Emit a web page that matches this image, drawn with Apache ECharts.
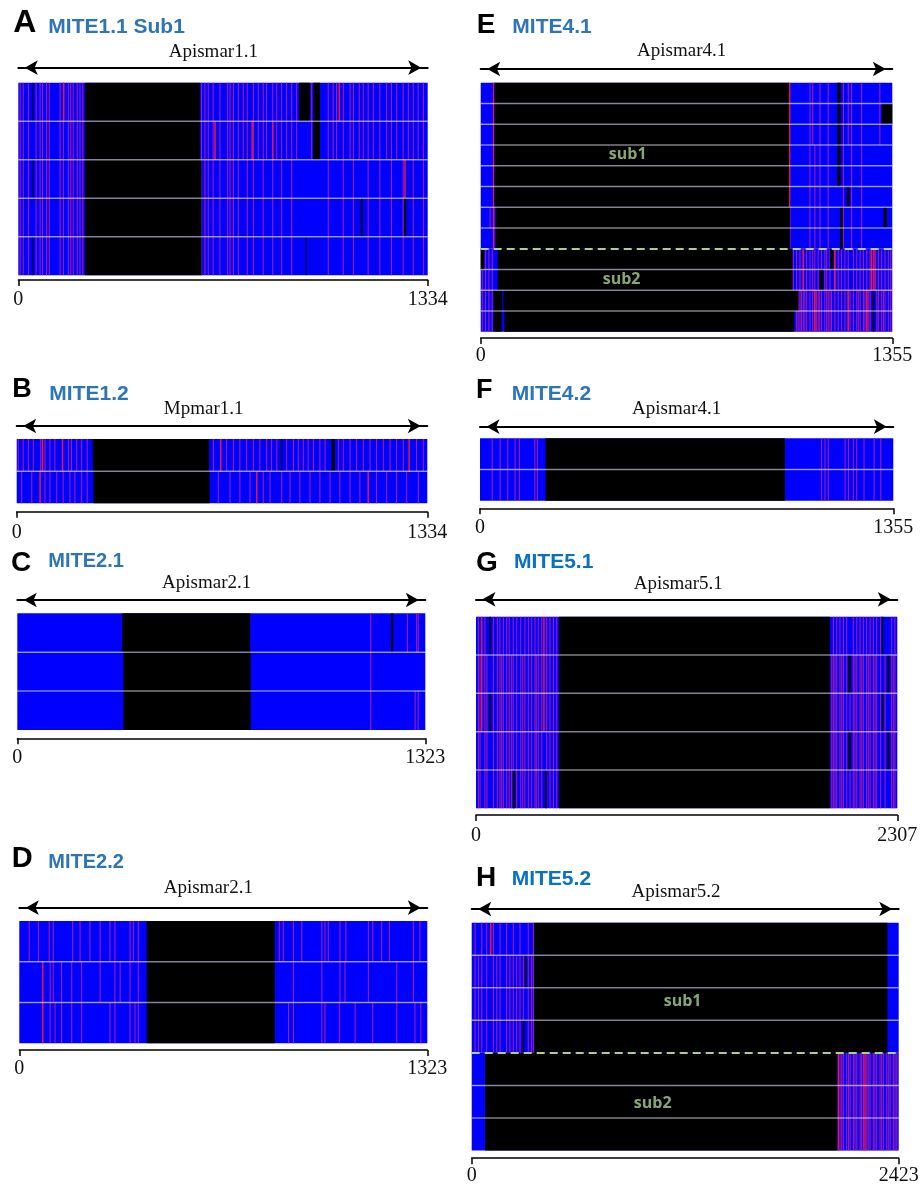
<!DOCTYPE html>
<html><head><meta charset="utf-8">
<script src="https://cdn.jsdelivr.net/npm/echarts@6/dist/echarts.min.js"></script>
<style>html,body{margin:0;padding:0;background:#fff}#c{width:922px;height:1186px}</style>
</head><body><div id="c"></div>
<script>
// ---------- DATA ----------
const panelKeys   = ['A','B','C','D','E','F','G','H'];
const panelTitles = ['MITE1.1 Sub1','MITE1.2','MITE2.1','MITE2.2','MITE4.1','MITE4.2','MITE5.1','MITE5.2'];
const refNames    = ['Apismar1.1','Mpmar1.1','Apismar2.1','Apismar2.1','Apismar4.1','Apismar4.1','Apismar5.1','Apismar5.2'];
const refLengths  = [1334, 1334, 1323, 1323, 1355, 1355, 2307, 2423];
const rowCounts   = [5, 2, 3, 3, 12, 2, 5, 7];
const subBoundary = [null, null, null, null, 8, null, null, 4];

// black (gap) segments: [row, start, end]
const aBlack = [[0,217,592],[1,217,592],[2,217,597],[3,217,597],[4,217,597],[0,915,950],[0,961,983],[1,961,983],
  [0,46,49],[2,47,50],[4,46,49],[3,1116,1122],[3,1257,1264],[4,936,939]];
const bBlack = [[0,247,625],[1,249,627],[0,859,863],[0,1023,1034]];
const cBlack = [[0,340,755],[1,344,757],[2,344,757],[0,1212,1219]];
const dBlack = [[0,413,829],[1,413,829],[2,413,829]];
const eBlack = [[0,45,1015],[1,45,1015],[2,45,1015],[3,45,1015],[4,45,1015],[5,45,1015],[6,49,1018],[7,49,1018],
  [0,1174,1185],[1,1174,1185],[2,1174,1185],[3,1174,1185],[4,1174,1185],[5,1205,1214],[6,1183,1192],[7,1183,1192],
  [1,1320,1355],[6,1326,1337],
  [8,0,11],[8,56,1026],[8,1150,1161],[9,56,1026],[9,1115,1128],
  [10,42,71],[10,75,1046],[10,1290,1296],[11,42,69],[11,78,1032],[11,1290,1296]];
const fBlack = [[0,215,1000],[1,215,1000]];
const gBlack = [[0,454,1938],[1,454,1938],[2,454,1938],[3,454,1938],[4,454,1938],
  [0,73,82],[2,73,82],[4,201,214],[4,378,387],
  [1,2039,2052],[3,2039,2052],[0,2221,2230],[2,2221,2230],[1,2252,2263],[3,2252,2263]];
const hBlack = [[0,354,2359],[1,354,2359],[2,354,2359],[3,354,2359],[4,76,2075],[5,76,2075],[6,76,2075],[1,302,312],[3,289,299]];

// mismatch stripes: [firstRow, lastRow, kind(0 purple,1 red), [positions]]
const aStripes = [
  [0,4,0,[6,16,33,58,71,79,92,101,136,147,163,171,179,192,201,210]],
  [0,4,0,[597,608,619,635,657,682,690,701,717,746,766,798,829,858,891,1010,1059,1092,1140,1178,1216,1254,1287,1320]],
  [0,1,0,[733,782,809,842,874,907,956,1026,1037,1081,1111,1124,1157,1200,1233,1271,1303]],
  [1,1,1,[641,762,829]],[2,2,1,[1260]],[0,0,1,[148,1046]]];
const bStripes = [
  [0,0,0,[5,21,38,54,78,92,108,124,168,178,195,211,229,639,682,704,725,747,769,790,812,828,845,877,899,915,931,947,964,985,1002,1045,1061,1083,1104,1126,1148,1169,1191,1213,1234,1256,1299,1321]],
  [0,0,1,[84,149,663,1275]],
  [1,1,0,[16,49,92,108,130,151,173,189,211,229,655,693,725,758,801,823,861,888,920,953,985,1018,1050,1083,1115,1169,1202,1234,1267,1305]],
  [1,1,1,[76,780,1142]]];
const cStripes = [[0,2,0,[1146]],[0,0,0,[1265,1295,1300]],[2,2,0,[1290,1300]]];
const dStripes = [
  [0,0,0,[32,62,97,110,173,197,229,262,294,310,359,370,386,843,856,889,916,981,991,1002,1040,1059,1132,1146,1175,1200,1278,1299]],
  [1,1,0,[100,110,137,170,202,262,310,327,359,386,889,981,1040,1056,1132,1224,1278]],
  [2,2,0,[100,116,137,170,202,294,310,359,375,386,873,889,981,991,1038,1089,1146,1224,1283,1302]],
  [1,2,1,[76]]];
const eStripes = [
  [0,7,1,[43,1017]],
  [0,7,0,[1084,1117,1144,1194,1221]],
  [0,2,0,[1093,1210,1254,1314]],
  [3,7,0,[1100,1254]],
  [6,6,0,[31]],
  [8,11,0,[5,16,27,38]],
  [8,11,0,[1029,1040,1051,1062,1073,1084,1093,1100,1111,1122,1133,1139,1150,1166,1177,1188,1199,1210,1227,1238,1249,1260,1271,1282,1293,1309,1320,1331,1342,1350]],
  [8,9,1,[1062,1166,1287,1298]],
  [10,11,1,[1100,1210,1271]],
  [10,11,0,[1045,1056,1067,1105,1116,1144,1155,1216,1243,1265,1276,1304,1326]]];
const fStripes = [[0,1,0,[40,66,91,115,129,180,188,1120,1131,1142,1197,1208,1224,1235,1259,1292,1314]]];
const gStripes = [
  [0,4,0,[13,49,95,117,131,150,168,182,204,223,245,268,287,305,323,341,360,387,405,424,442]],
  [0,4,0,[1957,1975,1993,2012,2030,2066,2085,2103,2121,2139,2158,2176,2194,2216,2276,2294]],
  [0,2,1,[31,372]],
  [1,4,0,[22,60,140,195,256,330,1948,1966,2003,2048,2075,2112,2148,2185,2240,2285]]];
const hStripes = [
  [0,3,0,[19,57,85,123,161,198,236,274,321,350]],
  [0,0,1,[108]],
  [1,3,0,[38,142,217,255,293,340]],
  [4,6,0,[2090,2109,2128,2147,2166,2185,2204,2223,2242,2260,2279,2298,2317,2336,2355,2374,2393,2412]],
  [4,6,0,[2100,2138,2175,2213,2250,2288,2326,2364,2402]],
  [4,6,1,[2080,2232]]];

// subfamily labels: [panelIndex, x, row position, text]
const subLabels = [[4,484,3.44,'sub1'],[4,464,9.46,'sub2'],[7,1197,2.43,'sub1'],[7,1027,5.56,'sub2']];

const blackSets  = [aBlack,bBlack,cBlack,dBlack,eBlack,fBlack,gBlack,hBlack];
const stripeSets = [aStripes,bStripes,cStripes,dStripes,eStripes,fStripes,gStripes,hStripes];

// ---------- LAYOUT (pixels) ----------
const layout = [
  {grid:[18.3,82.7,409.4,192.6], arrowOff:15,   nameGap:6.6,  nameShift:9.7,  bracketOff:4.7, labelMargin:10,  letter:[13.3,23.3,32], mite:[48.3,26.8,21], color:'#2e75b6'},
  {grid:[16.7,439,410.6,64.3],   arrowOff:13,   nameGap:7,    nameShift:18.3, bracketOff:8.4, labelMargin:10.6,letter:[12.3,390,27],  mite:[49.3,394.2,21], color:'#2e75b6'},
  {grid:[17.3,613.3,408,116.7],  arrowOff:13.3, nameGap:7.7,  nameShift:14.6, bracketOff:8.3, labelMargin:9.5, letter:[11,563.3,28],  mite:[48.3,561.5,20], color:'#2e75b6'},
  {grid:[19.3,921,408,122.3],    arrowOff:13.3, nameGap:10.4, nameShift:15,   bracketOff:6.7, labelMargin:9.2, letter:[11.7,859.2,29],mite:[48.3,862.2,20], color:'#2e75b6'},
  {grid:[480.7,82.7,411.6,249],  arrowOff:13.7, nameGap:8.4,  nameShift:4.8,  bracketOff:6.3, labelMargin:8,   letter:[476.7,25,28],  mite:[512.3,26.8,21], color:'#2e75b6'},
  {grid:[480,438.3,413.3,62.4],  arrowOff:11.6, nameGap:7.7,  nameShift:10,   bracketOff:7.6, labelMargin:9.5, letter:[476,390.8,27], mite:[511.7,394.2,21], color:'#2e75b6'},
  {grid:[476,616.7,421.3,191.6], arrowOff:17.4, nameGap:5.3,  nameShift:8.4,  bracketOff:6.7, labelMargin:11.2,letter:[476,563.3,28], mite:[514,562.5,21], color:'#0a70c0'},
  {grid:[471.7,922.7,427,229.6], arrowOff:13.7, nameGap:7.9,  nameShift:9.2,  bracketOff:7.7, labelMargin:7.8, letter:[476,878.3,28], mite:[511.7,879.2,21], color:'#0a70c0'}
];

// ---------- BUILD ----------
const grids = [], xAxes = [], yAxes = [], series = [], graphics = [];

function rectRenderer(fill){
  return function(params, api){
    const r = api.value(0), s = api.value(1), e = api.value(2);
    const p0 = api.coord([s, r]), p1 = api.coord([e, r + 1]);
    return {type:'rect', shape:{x:p0[0], y:p0[1], width:Math.max(p1[0]-p0[0], 1), height:p1[1]-p0[1]}, style:{fill:fill}};
  };
}
function stripeRenderer(params, api){
  const r0 = api.value(0), r1 = api.value(1), x = api.value(2), k = api.value(3);
  const p0 = api.coord([x, r0]), p1 = api.coord([x, r1 + 1]);
  const w = k === 1 ? 1.5 : 1.1;
  return {type:'rect', shape:{x:p0[0]-w/2, y:p0[1], width:w, height:p1[1]-p0[1]}, style:{fill: k === 1 ? '#ee1540' : '#9a1ca8'}};
}
function lineRenderer(len, rows){
  return function(params, api){
    const b = api.value(0);
    const p0 = api.coord([0, b]), p1 = api.coord([len, b]);
    return {type:'line', shape:{x1:p0[0], y1:p0[1], x2:p1[0], y2:p1[1]},
      style:{stroke:'rgba(255,255,255,0.5)', lineWidth:1.5, lineCap:'butt'}};
  };
}

panelKeys.forEach((key, i) => {
  const L = layout[i], len = refLengths[i], rows = rowCounts[i];
  grids.push({left:L.grid[0], top:L.grid[1], width:L.grid[2], height:L.grid[3], containLabel:false});
  // bottom bracket axis (scale axis for marks)
  xAxes.push({type:'value', gridIndex:i, position:'bottom', min:0, max:len, interval:len, offset:L.bracketOff,
    axisLine:{show:true, onZero:false, lineStyle:{color:'#000', width:1.5}},
    axisTick:{show:true, length:6, lineStyle:{color:'#000', width:1.5}},
    axisLabel:{show:true, margin:L.labelMargin, fontFamily:'Liberation Serif', fontSize:20, color:'#111',
      showMinLabel:true, showMaxLabel:true, formatter: v => String(v)},
    splitLine:{show:false}});
  // top double arrow with reference name
  xAxes.push({type:'value', gridIndex:i, position:'top', min:0, max:len, offset:L.arrowOff,
    axisLine:{show:true, onZero:false, symbol:['arrow','arrow'], symbolSize:[11,13], symbolOffset:[6.5,-6.5], lineStyle:{color:'#000', width:2}},
    axisTick:{show:false}, axisLabel:{show:false}, splitLine:{show:false},
    name:refNames[i], nameLocation:'middle', nameGap:L.nameGap,
    nameTextStyle:{fontFamily:'Liberation Serif', fontSize:19, color:'#111', padding:[0, 2*L.nameShift, 0, 0]}});
  yAxes.push({type:'value', gridIndex:i, min:0, max:rows, inverse:true, show:false, splitLine:{show:false}});

  const bgData = [];
  for (let r = 0; r < rows; r++) bgData.push([r, 0, len]);
  const stripeData = [];
  stripeSets[i].forEach(g => g[3].forEach(x => stripeData.push([g[0], g[1], x, g[2]])));
  const lineData = [];
  for (let b = 1; b < rows; b++) if (b !== subBoundary[i]) lineData.push([b]);

  series.push({type:'custom', xAxisIndex:2*i, yAxisIndex:i, renderItem:rectRenderer('#0000ff'), data:bgData, encode:{x:[1,2], y:0}, silent:true});
  series.push({type:'custom', xAxisIndex:2*i, yAxisIndex:i, renderItem:stripeRenderer, data:stripeData, encode:{x:2, y:[0,1]}, silent:true});
  series.push({type:'custom', xAxisIndex:2*i, yAxisIndex:i, renderItem:rectRenderer('#000000'), data:blackSets[i], encode:{x:[1,2], y:0}, silent:true});
  const lineSeries = {type:'custom', xAxisIndex:2*i, yAxisIndex:i, renderItem:lineRenderer(len, rows), data:lineData, encode:{y:0}, silent:true};
  if (subBoundary[i] !== null) {
    lineSeries.markLine = {silent:true, symbol:['none','none'], label:{show:false},
      lineStyle:{color:'#a9d18e', width:2, type:[8,5]}, data:[{yAxis:subBoundary[i]}]};
  }
  series.push(lineSeries);

  graphics.push({type:'text', x:L.letter[0], y:L.letter[1],
    style:{text:key, font:'bold ' + L.letter[2] + 'px "Liberation Sans", Arial, sans-serif', fill:'#000',
      verticalAlign:'middle', textVerticalAlign:'middle', align:'left', textAlign:'left'}});
  graphics.push({type:'text', x:L.mite[0], y:L.mite[1],
    style:{text:panelTitles[i], font:'bold ' + L.mite[2] + 'px "Liberation Sans", Arial, sans-serif', fill:L.color,
      verticalAlign:'middle', textVerticalAlign:'middle', align:'left', textAlign:'left'}});
});

// subfamily labels
[4,7].forEach(pi => {
  series.push({type:'scatter', xAxisIndex:2*pi, yAxisIndex:pi, symbolSize:1, itemStyle:{color:'rgba(0,0,0,0)'}, silent:true, z:10,
    data: subLabels.filter(s => s[0] === pi).map(s => [s[1], s[2], s[3]]),
    label:{show:true, position:'inside', formatter: p => p.value[2], color:'#a9d18e', fontFamily:'"Open Sans", sans-serif', fontSize:16, fontWeight:'bold'}});
});

const chart = echarts.init(document.getElementById('c'), null, {renderer:'canvas'});
chart.setOption({animation:false, backgroundColor:'#fff', grid:grids, xAxis:xAxes, yAxis:yAxes, series:series, graphic:graphics});
</script>
</body></html>
